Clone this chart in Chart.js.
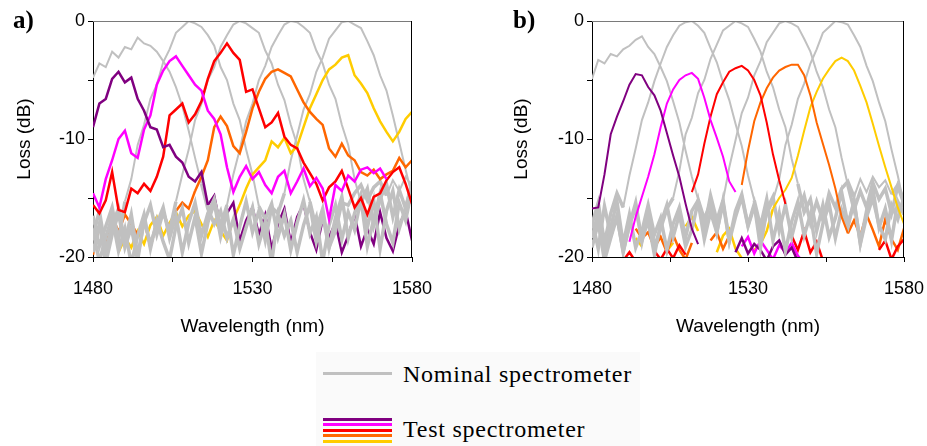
<!DOCTYPE html>
<html>
<head>
<meta charset="utf-8">
<script src="https://cdn.jsdelivr.net/npm/chart.js@4.4.1/dist/chart.umd.min.js"></script>
<style>
  body { margin: 0; background: #fff; width: 927px; height: 446px; position: relative; overflow: hidden; }
  .panel { position: absolute; top: 0; }
  .tag { position: absolute; font-family: "Liberation Serif", "DejaVu Serif", serif; font-weight: bold; font-size: 25px; line-height: 25px; }
  .legend-bg { position: absolute; left: 316px; top: 352px; width: 324px; height: 94px; background: #fafafa; }
  .legend-line { position: absolute; left: 323px; width: 69px; height: 3px; }
  .legend-text { position: absolute; left: 403px; font-family: "Liberation Serif", "DejaVu Serif", serif; font-size: 24px; line-height: 24px; letter-spacing: 0.75px; color: #000; white-space: nowrap; }
</style>
</head>
<body>

<canvas id="chartA" class="panel" style="left:0px" width="440" height="350"></canvas>
<canvas id="chartB" class="panel" style="left:480px" width="447" height="350"></canvas>
<div class="tag" style="left:13px; top:7px">a)</div>
<div class="tag" style="left:513px; top:7px">b)</div>

<div class="legend-bg"></div>
<div class="legend-line" style="top:372px; background:#c0c0c0"></div>
<div class="legend-text" style="top:362px">Nominal spectrometer</div>
<div class="legend-line" style="top:418px; background:#800080"></div>
<div class="legend-line" style="top:423px; background:#ff00ff"></div>
<div class="legend-line" style="top:429px; background:#ff0000"></div>
<div class="legend-line" style="top:434px; background:#ff6600"></div>
<div class="legend-line" style="top:440px; background:#ffcc00"></div>
<div class="legend-text" style="top:417px">Test spectrometer</div>

<script>
// wavelength grid (nm) shared by every trace
var wavelengths = [1480,1482,1484,1486,1488,1490,1492,1494,1496,1498,
  1500,1502,1504,1506,1508,1510,1512,1514,1516,1518,
  1520,1522,1524,1526,1528,1530,1532,1534,1536,1538,
  1540,1542,1544,1546,1548,1550,1552,1554,1556,1558,
  1560,1562,1564,1566,1568,1570,1572,1574,1576,1578,1580];

var xTickLabels = [1480, 1530, 1580];
var yTickLabels = [0, -10, -20];

// ---------- panel a) : nominal (grey) ----------
var grayA1 = [-4.8,-3.6,-3.9,-2.6,-3.1,-2.2,-2.4,-1.4,-1.9,-2.1,-2.6,-3.4,-4.3,
  -5.6,-7.2,-9.3,-11.6,-13.8,-15.9,-17.2,-16.1,-18.4,-16.8,-19.3,-17.5,-15.8,
  -18.9,-17.0,-20.5,-16.4,-18.2,-16.9,-19.6,-17.3,-15.6,-18.7,-16.5,-19.2,
  -17.8,-15.4,-15.6,-14.6,-13.9,-15.2,-14.1,-13.6,-14.8,-13.5,-14.4,-13.2,-14.0];
var grayA2 = [-16.5,-19.1,-17.4,-15.8,-18.6,-15.3,-13.4,-10.5,-8.8,-6.6,
  -5.4,-3.5,-2.4,-1.0,-0.5,0,-0.2,-0.5,-1.2,-2.1,
  -3.9,-5.0,-7.0,-8.4,-10.9,-13.0,-15.7,-16.8,-15.5,-18.3,
  -16.4,-19.4,-17.1,-15.2,-18.0,-16.6,-20.4,-17.3,-15.6,-18.5,
  -16.2,-17.7,-15.1,-19.1,-16.8,-14.6,-17.2,-18.8,-15.4,-16.9,-14.2];
var grayA3 = [-18.2,-16.1,-19.4,-17.3,-15.9,-18.7,-16.4,-19.9,-17.1,-15.6,
  -18.1,-16.2,-17.8,-15.3,-13.0,-10.9,-8.4,-7.0,-5.0,-3.9,
  -2.2,-1.2,-0.3,0,-0.2,-0.6,-1.0,-2.5,-3.6,-5.4,
  -6.7,-8.8,-10.5,-13.4,-15.3,-17.6,-15.9,-19.2,-16.7,-14.9,
  -18.4,-16.3,-14.7,-17.5,-15.2,-19.3,-16.1,-14.4,-17.6,-15.8,-13.9];
var grayA4 = [-19.6,-17.2,-20.5,-18.1,-16.3,-19.2,-17.5,-20.3,-16.8,-18.9,
  -17.2,-15.8,-18.4,-16.5,-19.6,-17.1,-15.4,-18.2,-16.3,-15.1,
  -17.4,-15.6,-13.0,-10.9,-8.5,-7.0,-5.0,-3.8,-2.2,-1.2,
  -0.3,0,-0.1,-0.5,-1.0,-2.5,-3.6,-5.4,-6.6,-8.8,
  -10.5,-13.4,-15.4,-14.2,-17.3,-15.1,-13.8,-16.6,-14.3,-15.9,-13.6];
var grayA5 = [-17.8,-20.4,-18.3,-16.6,-19.5,-17.6,-20.6,-18.2,-16.4,-19.3,
  -16.9,-18.7,-20.2,-17.4,-15.9,-18.8,-16.6,-19.7,-17.1,-15.4,
  -18.3,-16.2,-19.8,-17.4,-15.3,-17.9,-16.1,-18.6,-15.8,-16.3,
  -14.6,-11.8,-9.7,-7.5,-6.2,-4.3,-3.1,-1.5,-0.8,-0.1,
  0,-0.3,-0.6,-1.7,-2.9,-4.6,-5.9,-8.0,-10.3,-12.6,-14.8];

// ---------- panel a) : test (colours) ----------
var purpleA = [-9.0,-7.0,-6.6,-4.9,-4.3,-5.2,-4.8,-6.6,-7.6,-9.0,
  -9.2,-10.7,-10.5,-11.5,-12.0,-13.2,-13.6,-12.8,-15.6,null,
  null,null,null,null,null,null,null,null,null,null,
  null,null,null,null,null,null,null,null,null,null,
  null,null,null,null,null,null,null,null,null,null,null];
var purpleAFloor = [null,null,null,null,null,null,null,null,null,null,
  null,null,null,null,null,null,null,null,-15.6,-14.8,
  -17.5,-16.3,-15.4,-18.6,-16.9,-15.8,-18.1,-16.4,-19.3,-17.2,
  -15.9,-18.8,-16.6,-15.5,-17.9,-19.4,-16.8,-18.3,-17.1,-19.6,
  -18.2,-16.4,-19.1,-17.6,-18.9,-16.2,-18.4,-19.5,-17.3,-16.1,-18.6];
var magentaA = [-14.6,-15.8,-13.4,-11.8,-10.0,-9.3,-11.2,-11.6,-9.2,-8.0,
  -5.4,-4.2,-3.4,-3.0,-3.8,-4.6,-5.4,-5.9,-7.6,-8.3,
  -9.6,-12.4,-14.5,-13.2,-12.3,-13.4,-12.8,-13.9,-14.6,-13.2,
  -12.7,-14.6,-13.6,-12.5,-14.0,-13.3,-14.2,-16.8,-13.9,-14.4,
  -13.1,-13.6,-12.6,-12.4,-12.9,-12.5,-13.4,null,null,null,null];
var redA = [-15.6,-16.3,-15.2,-12.8,-16.0,-16.2,-14.2,-14.6,-13.8,-14.4,
  -13.2,-11.5,-8.0,-7.5,-7.0,-8.6,-7.9,-6.8,-4.9,-3.4,
  -2.7,-1.9,-2.7,-3.3,-6.0,-5.8,-7.4,-9.0,-8.6,-7.8,
  -9.8,-10.5,-10.8,-12.0,-12.9,-13.8,-15.2,-14.1,-13.6,-12.7,
  -14.2,-15.8,-15.0,-16.4,-14.9,-14.6,-13.5,-12.8,-12.4,-13.8,-15.5];
var orangeA = [null,null,null,null,null,null,null,null,null,null,
  null,null,null,null,null,null,-14.4,-13.2,-11.8,-9.0,
  -8.1,-8.9,-10.6,-11.2,-9.4,-7.4,-6.0,-4.9,-4.3,-4.1,
  -4.4,-4.7,-5.8,-6.9,-7.7,-8.3,-8.8,-10.8,-11.5,-10.4,
  -11.4,-11.8,-12.8,-13.1,-12.6,-13.4,-13.0,-12.7,-11.6,-12.4,-11.8];
var orangeAFloor = [-19.8,-17.4,-18.6,-16.5,-17.9,-16.4,-17.2,-18.1,-16.8,-19.2,
  -17.0,-16.3,-17.6,-16.1,-15.4,-15.9,-14.4,null,null,null,
  null,null,null,null,null,null,null,null,null,null,
  null,null,null,null,null,null,null,null,null,null,
  null,null,null,null,null,null,null,null,null,null,null];
var yellowA = [null,null,null,null,null,null,null,null,null,null,
  null,null,null,null,null,null,null,null,null,null,
  null,null,null,-15.6,-14.2,-13.0,-12.4,-11.8,-10.2,-10.7,
  -9.9,-11.2,-10.6,-9.0,-7.4,-6.2,-5.0,-4.1,-3.7,-3.1,
  -2.9,-4.6,-5.3,-6.1,-7.4,-8.5,-9.4,-10.2,-9.4,-8.3,-7.7];
var yellowAFloor = [null,null,null,null,-19.6,-18.4,-19.2,-17.8,-18.9,-17.3,
  -16.6,-18.2,-17.1,-16.2,-17.4,-16.5,-16.1,-17.2,-18.3,-16.9,
  -17.8,-18.6,-16.8,-15.6,null,null,null,null,null,null,
  null,null,null,null,null,null,null,null,null,null,
  null,null,null,null,null,null,null,null,null,null,null];

// ---------- panel b) : nominal (grey) ----------
var grayB1 = [-4.9,-3.3,-3.6,-2.8,-3.0,-2.4,-2.1,-1.6,-1.3,-2.2,
  -2.8,-3.9,-5.1,-6.8,-8.6,-11.0,-13.2,-15.1,-16.8,-15.4,
  -17.9,-15.2,-18.6,-16.1,-14.7,-17.3,-15.5,-19.2,-16.0,-14.9,
  -17.8,-15.6,-18.3,-16.2,-14.8,-17.1,-15.3,-16.9,-14.6,-15.8,
  -14.2,-13.6,-14.9,-13.4,-14.5,-13.2,-14.1,-13.5,-14.7,-13.9,-15.2];
var grayB2 = [-17.2,-15.4,-18.8,-16.3,-14.6,-15.8,-13.1,-10.8,-8.4,-6.9,
  -5.1,-3.6,-2.2,-1.2,-0.4,-0.1,0,-0.4,-1.0,-2.3,
  -3.5,-5.2,-6.7,-8.7,-10.6,-13.1,-15.2,-17.4,-15.1,-18.6,
  -16.3,-19.5,-17.0,-15.3,-18.2,-16.4,-19.7,-17.2,-15.5,-18.4,
  -16.0,-17.5,-15.2,-18.9,-16.6,-15.0,-17.3,-18.5,-15.6,-16.8,-14.9];
var grayB3 = [-16.8,-19.3,-15.7,-18.2,-16.5,-19.6,-17.3,-15.4,-18.7,-16.2,
  -19.1,-17.6,-15.9,-15.0,-12.7,-9.6,-8.2,-6.1,-5.0,-3.2,
  -2.0,-0.8,-0.4,0,-0.2,-0.5,-1.5,-2.6,-4.3,-5.6,
  -7.5,-9.0,-11.7,-13.8,-16.2,-15.1,-17.8,-15.6,-18.3,-16.7,
  -14.5,-17.2,-15.4,-18.8,-16.1,-14.2,-17.5,-15.9,-18.6,-15.3,-16.4];
var grayB4 = [-18.4,-16.2,-19.7,-17.5,-15.3,-18.9,-16.4,-19.2,-17.8,-15.6,
  -18.1,-16.7,-19.4,-17.2,-15.8,-18.3,-16.1,-15.2,-17.6,-14.8,
  -16.9,-15.2,-12.4,-10.1,-7.8,-6.5,-4.6,-3.4,-1.8,-1.0,
  -0.2,0,-0.2,-0.5,-1.5,-2.6,-4.3,-5.6,-7.5,-9.0,
  -11.6,-13.9,-16.0,-14.4,-15.8,-13.7,-15.1,-14.2,-16.3,-14.0,-15.5];
var grayB5 = [-19.2,-17.1,-20.3,-18.4,-16.6,-19.5,-17.3,-15.8,-18.6,-16.9,
  -19.8,-17.2,-15.6,-18.3,-16.4,-19.1,-17.7,-15.3,-18.5,-16.2,
  -17.9,-15.4,-18.7,-16.6,-14.9,-17.4,-15.7,-18.2,-16.3,-15.2,
  -13.4,-10.5,-8.8,-6.6,-5.3,-3.6,-2.4,-1.0,-0.5,0,
  -0.1,-0.3,-1.2,-2.2,-3.8,-5.1,-6.9,-8.5,-10.9,-13.1,-15.6];

// ---------- panel b) : test (colours) ----------
var purpleB = [-15.9,-15.8,-13.0,-9.6,-8.1,-6.8,-5.4,-4.5,-4.6,-5.6,
  -6.3,-7.6,-9.5,-11.4,-13.2,-15.5,-17.6,-18.9,null,null,
  null,null,null,null,null,null,null,null,null,null,
  null,null,null,null,null,null,null,null,null,null,
  null,null,null,null,null,null,null,null,null,null,null];
var purpleBFloor = [null,null,null,null,null,null,null,null,null,null,
  null,null,null,null,null,null,null,null,null,null,
  null,null,null,-19.6,-18.4,-19.7,-18.9,-19.4,-20.3,-19.1,
  -18.6,-19.8,-19.2,-20.4,null,null,null,null,null,null,
  null,null,null,null,null,null,null,null,null,null,null];
var magentaB = [null,null,null,null,null,null,-18.7,-16.6,-14.9,-13.2,
  -11.3,-9.0,-7.0,-5.8,-5.0,-4.6,-4.4,-4.9,-6.5,-8.4,
  -9.9,-11.5,-13.6,-14.5,null,null,null,null,null,null,
  null,null,null,null,null,null,null,null,null,null,
  null,null,null,null,null,null,null,null,null,null,null];
var magentaBFloor = [null,null,null,null,null,null,null,null,null,null,
  null,null,null,null,null,null,null,null,null,null,
  null,null,null,null,-19.1,-18.3,-19.7,-18.6,-19.4,-20.2,
  -19.0,-19.6,-18.8,-19.9,-20.5,null,null,null,null,null,
  null,null,null,null,null,null,null,null,null,null,null];
var redB = [null,null,null,null,null,null,null,null,null,null,
  null,null,null,null,null,null,-14.5,-13.0,-10.4,-8.1,
  -6.2,-5.2,-4.3,-4.0,-3.8,-4.2,-5.0,-6.3,-8.6,-11.3,
  -13.5,-15.5,null,null,null,null,null,null,null,null,
  null,null,null,null,null,null,null,null,null,null,null];
var redBFloor = [null,null,null,null,null,-20.3,-19.6,-20.4,null,null,
  -19.5,-20.2,-19.3,-20.1,-19.0,-19.8,null,null,null,null,
  null,null,null,null,null,null,null,null,null,null,
  null,null,-18.2,-19.4,-17.8,-19.6,-18.7,-20.3,null,null,
  null,null,null,null,null,null,-19.4,-18.6,-20.2,-19.1,-18.5];
var orangeB = [null,null,null,null,null,null,null,null,null,null,
  null,null,null,null,null,null,null,null,null,null,
  null,null,null,null,-13.9,-11.0,-8.5,-6.9,-5.7,-4.8,
  -4.2,-3.9,-3.7,-3.7,-4.6,-6.3,-8.6,-10.4,-12.2,-14.2,
  -16.6,-18.0,null,null,null,null,null,null,null,null,null];
var orangeBFloor = [null,null,null,null,null,null,null,-17.6,-18.4,-17.9,
  -19.2,-18.3,-19.6,-18.1,-19.4,-20.2,-18.8,null,null,-18.6,
  -17.9,-19.3,-18.2,null,null,null,null,null,null,null,
  null,null,null,null,null,null,null,null,null,null,
  null,-18.0,-16.9,-18.2,-16.4,-17.7,-19.1,-16.8,-18.5,-19.4,-17.6];
var yellowB = [null,null,null,null,null,null,null,null,null,null,
  null,null,null,null,null,null,null,null,null,null,
  null,null,null,null,null,null,null,null,null,-15.9,
  -15.0,-14.3,-13.3,-11.4,-9.3,-7.3,-6.0,-4.9,-4.1,-3.4,
  -3.1,-3.4,-4.2,-5.5,-6.9,-8.7,-10.6,-12.4,-14.1,-15.8,-17.2];
var yellowBFloor = [null,null,null,null,null,null,null,-18.4,-19.1,null,
  null,null,-19.5,-18.8,null,-17.4,-16.6,-17.8,null,null,
  -19.6,-18.2,-17.6,-19.3,-20.1,null,-19.4,-18.9,-17.8,-15.9,
  null,null,null,null,null,null,null,null,null,null,
  null,null,null,null,null,null,null,null,null,null,null];

var GREY = "#c0c0c0";
var PURPLE = "#800080", MAGENTA = "#ff00ff", RED = "#ff0000", ORANGE = "#ff6600", YELLOW = "#ffcc00";

function toPoints(values) {
    var pts = [];
    for (var i = 0; i < wavelengths.length; i++) {
        pts.push({x: wavelengths[i], y: values[i]});
    }
    return pts;
}

function trace(values, color, order, width) {
    return {
        data: toPoints(values),
        borderColor: color,
        backgroundColor: color,
        borderWidth: width,
        pointRadius: 0,
        tension: 0,
        fill: false,
        spanGaps: false,
        order: order
    };
}

// grey traces get a heavier stroke once they sink into the noise floor
function greyTrace(values) {
    var ds = trace(values, GREY, 1, 2);
    ds.segment = {
        borderWidth: function(c) {
            return (c.p0.parsed.y < -13.5 && c.p1.parsed.y < -13.5) ? 3.5 : undefined;
        }
    };
    return ds;
}

// top and right edge of the plot box
var boxPlugin = {
    id: 'box',
    afterDatasetsDraw: function(chart) {
        var ctx = chart.ctx, a = chart.chartArea;
        ctx.save();
        ctx.lineWidth = 1;
        ctx.strokeStyle = "#7a7a7a";
        ctx.beginPath();
        ctx.moveTo(a.left, a.top + 0.5);
        ctx.lineTo(a.right, a.top + 0.5);
        ctx.stroke();
        ctx.strokeStyle = "#000";
        ctx.beginPath();
        ctx.moveTo(a.right - 0.5, a.top);
        ctx.lineTo(a.right - 0.5, a.bottom);
        ctx.stroke();
        ctx.restore();
    }
};

function makeChart(id, grays, tests, floors, padLeft, padRight, yWidth, testWidth) {
    var datasets = [];
    // colour traces on top, grey in the middle, colour noise floor underneath
    tests.forEach(function(t) { datasets.push(trace(t[0], t[1], 0, testWidth)); });
    grays.forEach(function(g) { datasets.push(greyTrace(g)); });
    floors.forEach(function(f) { datasets.push(trace(f[0], f[1], 2, 2.5)); });

    var tickFont = {family: "'Liberation Sans', Arial, sans-serif", size: 18};
    var titleFont = {family: "'Liberation Sans', Arial, sans-serif", size: 19};

    return new Chart(document.getElementById(id), {
        type: 'line',
        data: {datasets: datasets},
        plugins: [boxPlugin],
        options: {
            responsive: false,
            animation: false,
            devicePixelRatio: 1,
            layout: {padding: {left: padLeft, right: padRight, top: 21, bottom: 0}},
            plugins: {legend: {display: false}, tooltip: {enabled: false}},
            scales: {
                x: {
                    type: 'linear',
                    min: 1480,
                    max: 1580,
                    afterFit: function(scale) {
                        scale.height = 93;
                        scale.paddingLeft = 0;
                        scale.paddingRight = 0;
                    },
                    border: {display: true, color: '#000', width: 1},
                    grid: {drawOnChartArea: false, drawTicks: true, tickLength: 5, color: '#000'},
                    ticks: {
                        stepSize: 25,
                        autoSkip: false,
                        maxRotation: 0,
                        padding: 16,
                        color: '#000',
                        font: tickFont,
                        callback: function(v) { return xTickLabels.indexOf(v) >= 0 ? String(v) : ''; }
                    },
                    title: {display: true, text: 'Wavelength (nm)', color: '#000', font: titleFont, padding: {top: 0, bottom: 12}}
                },
                y: {
                    min: -20,
                    max: 0,
                    afterFit: function(scale) { scale.width = yWidth; },
                    border: {display: true, color: '#000', width: 1},
                    grid: {drawOnChartArea: false, drawTicks: true, tickLength: 5, color: '#000'},
                    ticks: {
                        stepSize: 5,
                        padding: 3,
                        color: '#000',
                        font: tickFont,
                        callback: function(v) { return yTickLabels.indexOf(v) >= 0 ? String(v) : ''; }
                    },
                    title: {display: true, text: 'Loss (dB)', color: '#000', font: titleFont, padding: {top: 13, bottom: 0}}
                }
            }
        }
    });
}

makeChart('chartA',
    [grayA1, grayA2, grayA3, grayA4, grayA5],
    [[purpleA, PURPLE], [magentaA, MAGENTA], [redA, RED], [orangeA, ORANGE], [yellowA, YELLOW]],
    [[purpleAFloor, PURPLE], [orangeAFloor, ORANGE], [yellowAFloor, YELLOW]],
    0, 28, 93, 2.5);

makeChart('chartB',
    [grayB1, grayB2, grayB3, grayB4, grayB5],
    [[purpleB, PURPLE], [magentaB, MAGENTA], [redB, RED], [orangeB, ORANGE], [yellowB, YELLOW]],
    [[purpleBFloor, PURPLE], [magentaBFloor, MAGENTA], [redBFloor, RED], [orangeBFloor, ORANGE], [yellowBFloor, YELLOW]],
    17, 23, 95, 2);
</script>
</body>
</html>
